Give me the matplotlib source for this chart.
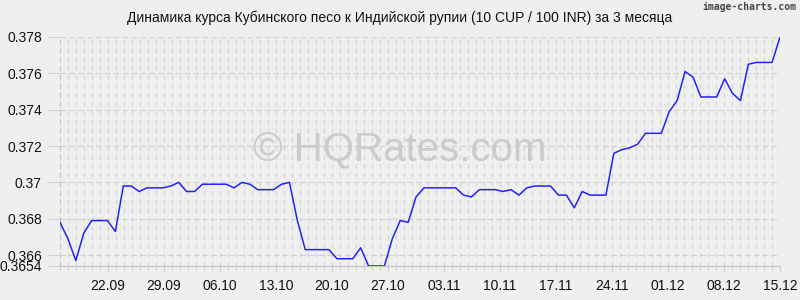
# Cuban peso vs Indian rupee, 3-month rate chart

import numpy as np
import matplotlib
matplotlib.use('Agg')
import matplotlib.pyplot as plt
from matplotlib.ticker import FixedLocator, MultipleLocator

plt.rcParams['font.family'] = ['Liberation Sans', 'DejaVu Sans']

# daily rate, 10 CUP / 100 INR, 16.09 .. 15.12 (92 points over 90 days)
rates = [
    0.3678, 0.3669, 0.3657, 0.3672, 0.3679, 0.3679, 0.3679, 0.3673,
    0.3698, 0.3698, 0.3695, 0.3697, 0.3697, 0.3697, 0.3698, 0.3700,
    0.3695, 0.3695, 0.3699, 0.3699, 0.3699, 0.3699, 0.3697, 0.3700,
    0.3699, 0.3696, 0.3696, 0.3696, 0.3699, 0.3700, 0.3679, 0.3663,
    0.3663, 0.3663, 0.3663, 0.3658, 0.3658, 0.3658, 0.3664, 0.3654,
    0.3654, 0.3654, 0.3669, 0.3679, 0.3678, 0.3692, 0.3697, 0.3697,
    0.3697, 0.3697, 0.3697, 0.3693, 0.3692, 0.3696, 0.3696, 0.3696,
    0.3695, 0.3696, 0.3693, 0.3697, 0.3698, 0.3698, 0.3698, 0.3693,
    0.3693, 0.3686, 0.3695, 0.3693, 0.3693, 0.3693, 0.3716, 0.3718,
    0.3719, 0.3721, 0.3727, 0.3727, 0.3727, 0.3739, 0.3745, 0.3761,
    0.3758, 0.3747, 0.3747, 0.3747, 0.3757, 0.3749, 0.3745, 0.3765,
    0.3766, 0.3766, 0.3766, 0.3780,
]
n_days = 90
tick_days = [6, 13, 20, 27, 34, 41, 48, 55, 62, 69, 76, 83, 90]
tick_labels = ['22.09', '29.09', '06.10', '13.10', '20.10', '27.10', '03.11',
               '10.11', '17.11', '24.11', '01.12', '08.12', '15.12']
y_ticks = [0.3654, 0.366, 0.368, 0.370, 0.372, 0.374, 0.376, 0.378]
y_labels = ['0.3654', '0.366', '0.368', '0.37', '0.372', '0.374', '0.376', '0.378']

bg = '#efefef'
grid_c = '#d0d0d0'

fig = plt.figure(figsize=(8, 3), dpi=100, facecolor=bg)
ax = fig.add_axes([60 / 800, 34 / 300, 720 / 800, 229 / 300], facecolor=bg)

x = np.linspace(0, n_days, len(rates))
ax.plot(x, rates, color='#2222ff', lw=1.1, zorder=3)

ax.set_xlim(0, n_days)
ax.set_ylim(y_ticks[0], y_ticks[-1])

ax.xaxis.set_major_locator(FixedLocator(tick_days))
ax.set_xticklabels(tick_labels)
ax.xaxis.set_minor_locator(MultipleLocator(1))
ax.yaxis.set_major_locator(FixedLocator(y_ticks))
ax.set_yticklabels(y_labels)

ax.tick_params(axis='both', which='major', labelsize=10, colors=grid_c,
               labelcolor='#111111', length=4, width=0.8)
ax.tick_params(axis='x', which='minor', colors=grid_c, length=3, width=0.8)
ax.tick_params(axis='x', which='major', pad=5)
ax.tick_params(axis='y', which='major', pad=4, length=9)

ax.grid(True, which='both', axis='x', color=grid_c, ls=(0, (4, 4)), lw=0.8)
ax.grid(True, which='major', axis='y', color=grid_c, ls=(0, (5, 3)), lw=0.8)

for side in ['top', 'right']:
    ax.spines[side].set_visible(False)
ax.spines['left'].set_color('#c4c4c4')
ax.spines['left'].set_linestyle((0, (4, 4)))
ax.spines['bottom'].set_color('#c4c4c4')

fig.text(0.5, 1 - 18 / 300, 'Динамика курса Кубинского песо к Индийской рупии (10 CUP / 100 INR) за 3 месяца',
         ha='center', va='center', fontsize=10, color='#111111')
fig.text(0.995, 1 - 7 / 300, 'image-charts.com', ha='right', va='center',
         fontsize=7, color='#444444', family='DejaVu Sans Mono', weight='bold')
fig.text(0.5, 1 - 150 / 300, '© HQRates.com', ha='center', va='center',
         fontsize=29, color='#cbcbcb', zorder=0)

fig.savefig('out.png', dpi=100, facecolor=bg)
